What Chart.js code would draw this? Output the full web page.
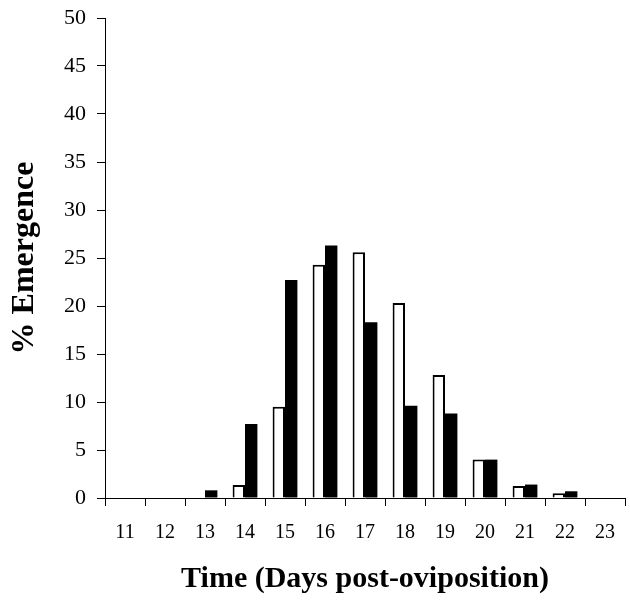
<!DOCTYPE html>
<html><head><meta charset="utf-8">
<script src="https://cdn.jsdelivr.net/npm/chart.js@4/dist/chart.umd.min.js"></script>
<style>html,body{margin:0;padding:0;background:#fff}#wrap{width:630px;height:601px}</style>
</head><body><div id="wrap"><canvas id="c" width="630" height="601"></canvas></div>
<script>
const days = ['11','12','13','14','15','16','17','18','19','20','21','22','23'];
const seriesWhite = [0, 0, 0, 1.35, 9.5, 24.3, 25.6, 20.3, 12.8, 4.0, 1.25, 0.5, 0];
const seriesBlack = [0, 0, 0.8, 7.7, 22.7, 26.3, 18.3, 9.6, 8.8, 4.0, 1.4, 0.7, 0];
const yMin = 0, yMax = 50, yStep = 5;
const xTitle = 'Time (Days post-oviposition)';
const yTitle = '% Emergence';

const serif = "'Liberation Serif', 'Times New Roman', serif";
new Chart(document.getElementById('c'), {
  type: 'bar',
  data: {
    labels: days,
    datasets: [
      { data: seriesWhite, backgroundColor: '#fff', borderColor: '#000', borderWidth: 2 },
      { data: seriesBlack, backgroundColor: '#000', borderColor: '#000', borderWidth: 0 }
    ]
  },
  options: {
    responsive: false,
    animation: false,
    categoryPercentage: 0.62,
    barPercentage: 1.0,
    layout: { padding: { top: 18, right: 5, left: 0, bottom: 0 } },
    plugins: { legend: { display: false }, tooltip: { enabled: false } },
    scales: {
      x: {
        offset: true,
        grid: { offset: true, drawOnChartArea: false, tickLength: 8, color: '#000', tickColor: '#000' },
        border: { color: '#000', width: 1 },
        ticks: { color: '#000', font: { family: serif, size: 20 }, padding: 15, maxRotation: 0 },
        title: { display: true, text: xTitle, color: '#000', font: { family: serif, size: 30, weight: 'bold' }, padding: { top: 0, bottom: 4 } },
        afterFit: s => { s.height = 601 - 498; s.paddingLeft = 0; s.paddingRight = 0; }
      },
      y: {
        min: yMin, max: yMax,
        grid: { drawOnChartArea: false, tickLength: 8, color: '#000', tickColor: '#000' },
        border: { color: '#000', width: 1 },
        ticks: { stepSize: yStep, color: '#000', font: { family: serif, size: 22 }, padding: 11 },
        title: { display: true, text: yTitle, color: '#000', font: { family: serif, size: 32, weight: 'bold' }, padding: { top: 6, bottom: 0 } },
        afterFit: s => { s.width = 105; s.paddingTop = 0; s.paddingBottom = 0; }
      }
    }
  }
});
</script>
</body></html>
